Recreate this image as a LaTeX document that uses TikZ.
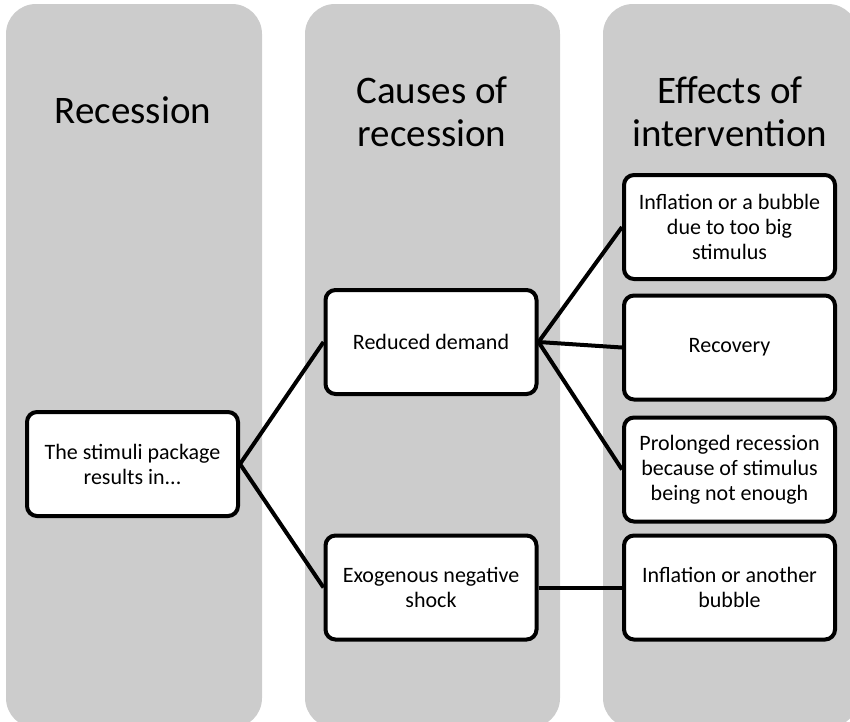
\documentclass[tikz,border=0pt]{standalone}
\usepackage{fontspec}
\setmainfont{Carlito}

\begin{document}
\begin{tikzpicture}[x=1pt,y=-1pt,
    lane/.style={fill=black!20,rounded corners=30pt},
    heading/.style={font=\fontsize{39}{43}\selectfont,align=center},
    item/.style={draw,line width=4pt,fill=white,rounded corners=10pt,
        minimum width=211pt,minimum height=104pt,inner sep=0pt,
        align=center,font=\fontsize{22}{25}\selectfont},
    link/.style={line width=4pt}]
\useasboundingbox (0,0) rectangle (850,721);
\clip (0,0) rectangle (850,721);
% columns
\fill[lane] (6,4) rectangle (262,728);
\fill[lane] (305,4) rectangle (560,728);
\fill[lane] (603,4) rectangle (858,728);
\node[heading] (h1) at (133,110) {Recession};
\node[heading] (h2) at (432,112) {Causes of\\recession};
\node[heading] (h3) at (730,112) {Effects of\\intervention};
% boxes
\node[item] (stimuli) at (132.5,464) {The stimuli package\\results in...};
\node[item] (demand) at (431,342) {Reduced demand};
\node[item] (shock) at (431,587.5) {Exogenous negative\\shock};
\node[item] (bubble) at (729.5,227) {Inflation or a bubble\\due to too big\\stimulus};
\node[item] (recovery) at (729.5,347.5) {Recovery};
\node[item] (prolonged) at (729.5,469.5) {Prolonged recession\\because of stimulus\\being not enough};
\node[item] (another) at (729.5,587.5) {Inflation or another\\bubble};
% links
\draw[link] (stimuli.east) -- (demand.west);
\draw[link] (stimuli.east) -- (shock.west);
\draw[link] (demand.east) -- (bubble.west);
\draw[link] (demand.east) -- (recovery.west);
\draw[link] (demand.east) -- (prolonged.west);
\draw[link] (shock.east) -- (another.west);
\end{tikzpicture}
\end{document}
